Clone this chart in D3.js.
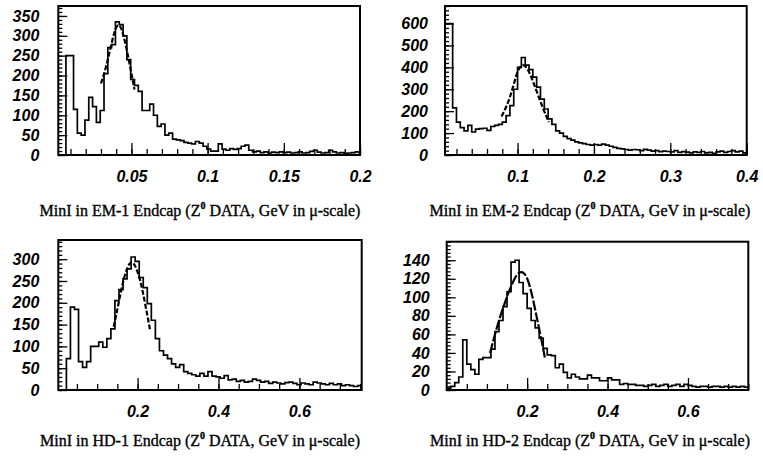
<!DOCTYPE html>
<html>
<head>
<meta charset="utf-8">
<script src="https://cdn.jsdelivr.net/npm/d3@7"></script>
<style>
  body { margin: 0; background: #fff; }
  svg { display: block; }
  .tick text { font-family: "Liberation Sans", Arial, sans-serif; font-weight: bold; font-style: italic; font-size: 16px; fill: #000; }
  .caption { font-family: "Liberation Serif", "Times New Roman", serif; font-size: 16px; fill: #000; stroke: #000; stroke-width: 0.35px; }
</style>
</head>
<body>
<script>
// histogram contents (one value per bin)
var em1Counts = [0, 0, 250, 250, 115, 55, 50, 88, 145, 122, 82, 112, 205, 270, 278, 335, 328, 300, 240, 190,
  175, 160, 112, 112, 128, 100, 72, 78, 50, 55, 40, 38, 36, 32, 30, 28, 34, 30, 22, 15,
  10, 10, 28, 15, 12, 16, 14, 16, 22, 25, 12, 8, 10, 6, 8, 5, 7, 6, 8, 6,
  7, 5, 6, 8, 5, 6, 9, 12, 7, 5, 6, 12, 8, 5, 6, 4, 5, 6, 8, 4];
var em2Counts = [600, 600, 215, 150, 125, 110, 135, 105, 118, 120, 122, 112, 130, 135, 140, 150, 180, 225, 300, 400,
  445, 410, 390, 355, 310, 255, 210, 165, 140, 110, 100, 85, 75, 68, 60, 55, 52, 48, 45, 48,
  45, 50, 45, 40, 35, 30, 28, 25, 22, 25, 24, 20, 26, 22, 18, 20, 15, 18, 16, 14,
  20, 12, 15, 13, 10, 14, 12, 16, 10, 12, 8, 14, 18, 12, 16, 20, 14, 18, 10, 14];
var hd1Counts = [0, 0, 72, 190, 185, 65, 52, 65, 100, 100, 110, 98, 118, 140, 205, 230, 255, 278, 305, 295,
  258, 235, 198, 160, 118, 90, 80, 72, 60, 52, 58, 42, 38, 35, 32, 38, 32, 42, 32, 30,
  27, 33, 23, 25, 20, 22, 18, 20, 25, 22, 18, 20, 15, 18, 16, 14, 17, 18, 15, 12,
  16, 14, 12, 18, 16, 14, 12, 15, 12, 14, 10, 12, 10, 8, 10];
var hd2Counts = [2, 4, 8, 14, 54, 28, 22, 17, 33, 35, 35, 44, 63, 75, 90, 106, 138, 140, 116, 104,
  88, 75, 67, 56, 45, 38, 37, 24, 28, 19, 13, 17, 14, 12, 12, 16, 13, 13, 10, 10,
  13, 11, 11, 6, 7, 6, 6, 5, 5, 4, 5, 6, 4, 5, 6, 4, 5, 6, 4, 6,
  5, 4, 3, 4, 4, 3, 4, 4, 3, 4, 3, 4, 3, 4, 3];

// bins: [first edge, width]
var em1Bins = [0.002, 0.0025];
var em2Bins = [0.005, 0.005];
var hd1Bins = [0.004, 0.01];
var hd2Bins = [0.0, 0.01];

// fitted peak curves
var em1Fit = [[0.030, 180], [0.033, 215], [0.036, 265], [0.039, 315], [0.0415, 333], [0.044, 315], [0.047, 265], [0.050, 205], [0.052, 165]];
var em2Fit = [[0.079, 176], [0.090, 252], [0.099, 380], [0.106, 420], [0.114, 396], [0.125, 290], [0.134, 206], [0.141, 150]];
var hd1Fit = [[0.141, 145], [0.153, 198], [0.165, 256], [0.181, 298], [0.193, 290], [0.206, 256], [0.218, 202], [0.231, 137]];
var hd2Fit = [[0.108, 40], [0.124, 67], [0.141, 90], [0.157, 109], [0.172, 124], [0.186, 129], [0.200, 123], [0.213, 102], [0.226, 74], [0.238, 49], [0.244, 35]];

// axis ranges and ticks
var em1X = [0.002, 0.2], em1Y = [0, 375];
var em2X = [0.005, 0.4], em2Y = [0, 680];
var hd1X = [0.004, 0.754], hd1Y = [0, 344];
var hd2X = [0.0, 0.75], hd2Y = [0, 160];
var em1XTicks = ["0.05", "0.1", "0.15", "0.2"];
var em2XTicks = ["0.1", "0.2", "0.3", "0.4"];
var hdXTicks = ["0.2", "0.4", "0.6"];
var em1YTicks = [0, 50, 100, 150, 200, 250, 300, 350];
var em2YTicks = [0, 100, 200, 300, 400, 500, 600];
var hd1YTicks = [0, 50, 100, 150, 200, 250, 300];
var hd2YTicks = [0, 20, 40, 60, 80, 100, 120, 140];

var captions = ["EM-1", "EM-2", "HD-1", "HD-2"];

var svg = d3.select("body").append("svg")
  .attr("width", 763)
  .attr("height", 456);

var panels = [
  { box: [58.3, 6, 360, 155], counts: em1Counts, bins: em1Bins, fit: em1Fit, xd: em1X, yd: em1Y,
    xt: em1XTicks, xMinor: 0.01, yt: em1YTicks, yMinor: 10, name: captions[0], capY: 216, capX: 200, lblGap: 19 },
  { box: [445, 6, 746.7, 155], counts: em2Counts, bins: em2Bins, fit: em2Fit, xd: em2X, yd: em2Y,
    xt: em2XTicks, xMinor: 0.02, yt: em2YTicks, yMinor: 20, name: captions[1], capY: 216, capX: 590, lblGap: 17 },
  { box: [58.3, 240, 361.7, 390], counts: hd1Counts, bins: hd1Bins, fit: hd1Fit, xd: hd1X, yd: hd1Y,
    xt: hdXTicks, xMinor: 0.05, yt: hd1YTicks, yMinor: 10, name: captions[2], capY: 446, capX: 200, lblGap: 19 },
  { box: [446.7, 241.7, 748.3, 390], counts: hd2Counts, bins: hd2Bins, fit: hd2Fit, xd: hd2X, yd: hd2Y,
    xt: hdXTicks, xMinor: 0.05, yt: hd2YTicks, yMinor: 4, name: captions[3], capY: 446, capX: 590, lblGap: 17 }
];

panels.forEach(function(p, k) {
  var x = d3.scaleLinear().domain(p.xd).range([p.box[0], p.box[2]]);
  var y = d3.scaleLinear().domain(p.yd).range([p.box[3], p.box[1]]);

  var clipId = "clip" + k;
  svg.append("clipPath").attr("id", clipId)
    .append("rect")
    .attr("x", p.box[0]).attr("y", p.box[1])
    .attr("width", p.box[2] - p.box[0]).attr("height", p.box[3] - p.box[1]);

  // histogram outline
  var pts = [[p.bins[0], 0]];
  p.counts.forEach(function(c, i) {
    pts.push([p.bins[0] + i * p.bins[1], c]);
  });
  pts.push([p.bins[0] + p.counts.length * p.bins[1], p.counts[p.counts.length - 1]]);

  var step = d3.line()
    .x(d => x(d[0]))
    .y(d => y(d[1]))
    .curve(d3.curveStepAfter);

  svg.append("path")
    .attr("clip-path", "url(#" + clipId + ")")
    .attr("d", step(pts))
    .attr("fill", "none")
    .attr("stroke", "#000")
    .attr("stroke-width", 1.7);

  // fit curve
  var smooth = d3.line()
    .x(d => x(d[0]))
    .y(d => y(d[1]))
    .curve(d3.curveBasis);
  svg.append("path")
    .attr("d", smooth(p.fit))
    .attr("fill", "none")
    .attr("stroke", "#000")
    .attr("stroke-width", 2.2)
    .attr("stroke-dasharray", k == 3 ? "10,2" : "5,2");

  // minor ticks on x (pointing inside)
  var xMinorVals = d3.range(0, p.xd[1] + 1e-9, p.xMinor).filter(v => v > p.xd[0]);
  svg.append("g")
    .attr("transform", "translate(0," + p.box[3] + ")")
    .call(d3.axisBottom(x).tickValues(xMinorVals).tickSize(-6).tickFormat(""))
    .call(g => g.select(".domain").remove());

  // major x ticks with labels
  svg.append("g")
    .attr("transform", "translate(0," + p.box[3] + ")")
    .call(d3.axisBottom(x).tickValues(p.xt.map(Number)).tickSizeInner(-12).tickPadding(16)
      .tickFormat((d, i) => p.xt[i]))
    .call(g => g.select(".domain").remove())
    .call(g => g.selectAll(".tick text").attr("dy", "0.71em"));

  // minor ticks on y
  var yMinorVals = d3.range(0, p.yd[1] + 1e-9, p.yMinor);
  svg.append("g")
    .attr("transform", "translate(" + p.box[0] + ",0)")
    .call(d3.axisLeft(y).tickValues(yMinorVals).tickSize(-4).tickFormat(""))
    .call(g => g.select(".domain").remove());

  // major y ticks with labels
  svg.append("g")
    .attr("transform", "translate(" + p.box[0] + ",0)")
    .call(d3.axisLeft(y).tickValues(p.yt).tickSizeInner(-9).tickPadding(p.lblGap).tickFormat(d3.format("d")))
    .call(g => g.select(".domain").remove());

  svg.selectAll(".tick line").attr("stroke", "#000").attr("stroke-width", 1.3);

  // frame
  svg.append("rect")
    .attr("x", p.box[0]).attr("y", p.box[1])
    .attr("width", p.box[2] - p.box[0]).attr("height", p.box[3] - p.box[1])
    .attr("fill", "none")
    .attr("stroke", "#000")
    .attr("stroke-width", 2);

  // caption
  var cap = svg.append("text")
    .attr("class", "caption")
    .attr("x", p.capX)
    .attr("y", p.capY)
    .attr("text-anchor", "middle");
  cap.append("tspan").text("MinI in " + p.name + " Endcap (Z");
  cap.append("tspan").attr("dy", -7).attr("font-size", "10px").attr("font-weight", "bold").text("0");
  cap.append("tspan").attr("dy", 7).text(" DATA, GeV in \u03bc-scale)");
});
</script>
</body>
</html>
